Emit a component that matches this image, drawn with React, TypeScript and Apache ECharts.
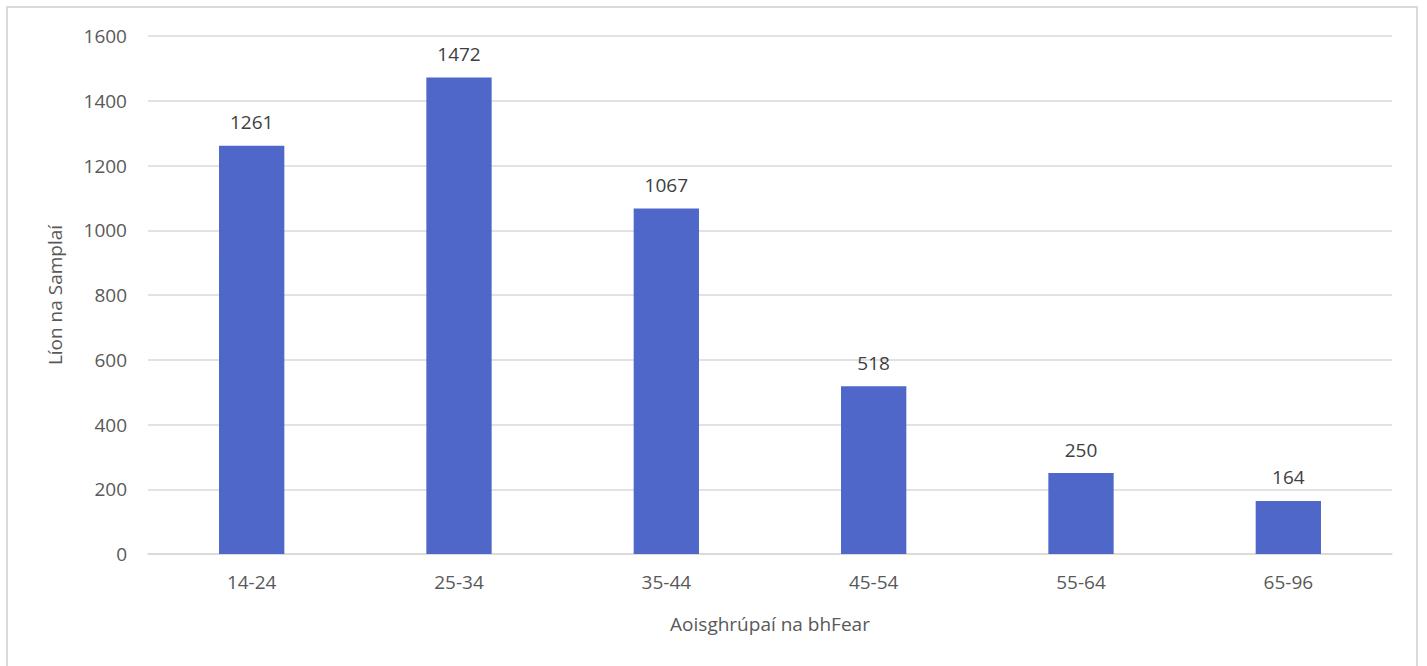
import React, { useEffect, useRef } from "react";
import * as echarts from "echarts";

const categories = ["14-24", "25-34", "35-44", "45-54", "55-64", "65-96"];
const values = [1261, 1472, 1067, 518, 250, 164];
const yTicks = { min: 0, max: 1600, interval: 200 };
const xName = "Aoisghrúpaí na bhFear";
const yName = "Líon na Samplaí";

export default function App() {
  const ref = useRef<HTMLDivElement>(null);
  useEffect(() => {
    document.body.style.margin = "0";
    const chart = echarts.init(ref.current!, undefined, { renderer: "svg" });
    const font = "'Open Sans', 'Liberation Sans', sans-serif";
    const fs = 19;
    chart.setOption({
      animation: false,
      textStyle: { fontFamily: font },
      grid: { left: 148, right: 35, top: 36, bottom: 112 },
      xAxis: {
        type: "category",
        data: categories,
        name: xName,
        nameLocation: "middle",
        nameGap: 60,
        nameTextStyle: { fontSize: fs, color: "#595959", fontFamily: font },
        axisLine: { lineStyle: { color: "#d9d9d9", width: 1.5 } },
        axisTick: { show: false },
        axisLabel: { fontSize: fs, color: "#595959", margin: 18, fontFamily: font },
      },
      yAxis: {
        type: "value",
        min: yTicks.min,
        max: yTicks.max,
        interval: yTicks.interval,
        name: yName,
        nameLocation: "middle",
        nameGap: 84,
        nameTextStyle: { fontSize: fs, color: "#595959", fontFamily: font },
        axisLine: { show: false },
        axisTick: { show: false },
        splitLine: { lineStyle: { color: "#d9d9d9", width: 1.5 } },
        axisLabel: {
          fontSize: fs,
          color: "#595959",
          margin: 21,
          fontFamily: font,
          formatter: (v: number) => String(v),
        },
      },
      series: [
        {
          type: "bar",
          data: values,
          barWidth: "31.5%",
          itemStyle: { color: "#4f67c8" },
          label: {
            show: true,
            position: "top",
            distance: 14,
            fontSize: fs,
            color: "#404040",
            fontFamily: font,
          },
        },
      ],
    });
    return () => chart.dispose();
  }, []);
  return (
    <div style={{ position: "relative", width: 1427, height: 666, background: "#fff" }}>
      <div
        style={{
          position: "absolute",
          left: 6,
          top: 6,
          width: 1412,
          height: 680,
          border: "2px solid #d9d9d9",
          boxSizing: "border-box",
        }}
      />
      <div ref={ref} style={{ position: "absolute", left: 0, top: 0, width: 1427, height: 666 }} />
    </div>
  );
}
